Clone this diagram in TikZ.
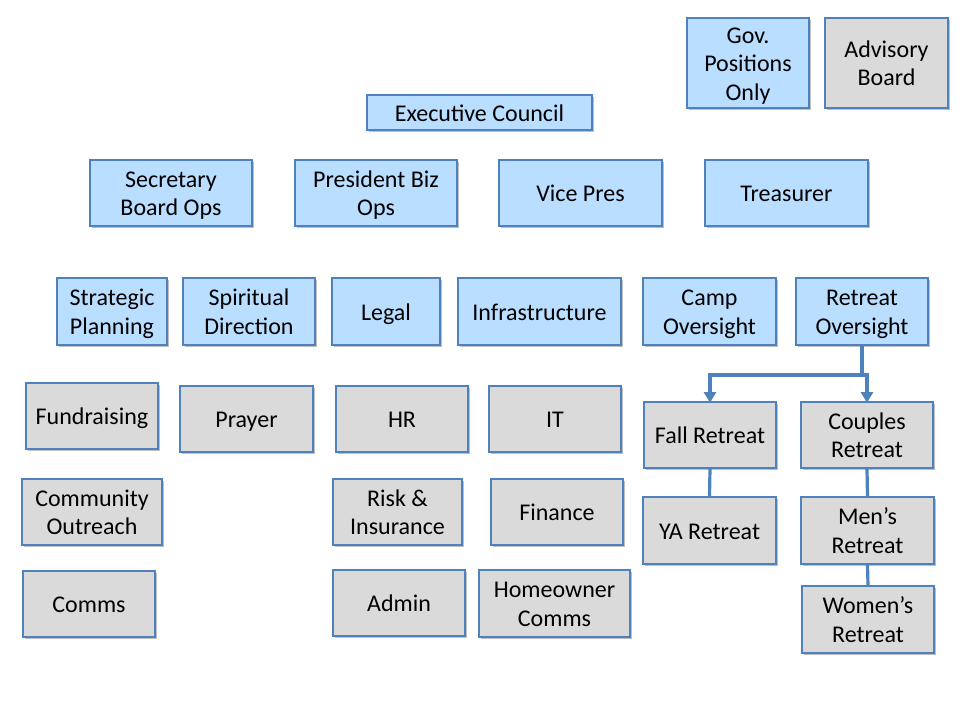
\documentclass[tikz,border=0pt]{standalone}
\usepackage{fontspec}
\setmainfont{Carlito}
\usetikzlibrary{arrows.meta,shadows}

\definecolor{boxblue}{RGB}{185,222,255}
\definecolor{boxgrey}{RGB}{218,218,218}
\definecolor{edgeblue}{RGB}{79,129,189}

\begin{document}
\begin{tikzpicture}[x=0.75pt,y=-0.75pt,
	unit/.style={draw=edgeblue, line width=0.9pt, align=flush center, inner sep=0pt,
		font=\fontsize{18}{21.4}\selectfont,
		execute at begin node={\rule{0pt}{18pt}},
		execute at end node={\rule[-5pt]{0pt}{5pt}},
		drop shadow={shadow xshift=1.2pt, shadow yshift=-1.2pt, opacity=0.25, fill=black}},
	blueunit/.style={unit, fill=boxblue},
	greyunit/.style={unit, fill=boxgrey},
	bw/.style={minimum width=#1*0.75pt, text width=#1*0.75pt-4pt},
	bh/.style={minimum height=#1*0.75pt},
	link/.style={draw=edgeblue, line width=2.4pt},
	linkarrow/.style={link, -{Triangle[width=9pt,length=8pt]}, shorten >=-1pt}]
%
	\useasboundingbox (0,0) rectangle (960,720);
%
	\node[blueunit, bw=122, bh=90] (gov) at (748,63) {Gov.\\Positions\\Only};
	\node[greyunit, bw=123, bh=90] (advisory) at (886.5,63) {Advisory\\Board};
	\node[blueunit, bw=225, bh=35] (exec) at (479.5,112.5) {Executive Council};
%
	\node[blueunit, bw=162, bh=66] (secretary) at (171,193) {Secretary\\Board Ops};
	\node[blueunit, bw=162, bh=66] (president) at (376,193) {President Biz\\Ops};
	\node[blueunit, bw=163, bh=66] (vicepres) at (580.5,193) {Vice Pres};
	\node[blueunit, bw=163, bh=66] (treasurer) at (786.5,193) {Treasurer};
%
	\node[blueunit, bw=110, bh=67] (strategic) at (112,311.5) {Strategic\\Planning};
	\node[blueunit, bw=132, bh=67] (spiritual) at (249,311.5) {Spiritual\\Direction};
	\node[blueunit, bw=108, bh=67] (legal) at (386,311.5) {Legal};
	\node[blueunit, bw=163, bh=67] (infra) at (539.5,311.5) {Infrastructure};
	\node[blueunit, bw=133, bh=67] (camp) at (709.5,311.5) {Camp\\Oversight};
	\node[blueunit, bw=132, bh=67] (retreat) at (862,311.5) {Retreat\\Oversight};
%
	\node[greyunit, bw=132, bh=66] (fundraising) at (92,416) {Fundraising};
	\node[greyunit, bw=133, bh=66] (prayer) at (246.5,419) {Prayer};
	\node[greyunit, bw=132, bh=66] (hr) at (402,419) {HR};
	\node[greyunit, bw=132, bh=66] (it) at (555,419) {IT};
	\node[greyunit, bw=132, bh=66] (fall) at (710,435) {Fall Retreat};
	\node[greyunit, bw=132, bh=66] (couples) at (867,435) {Couples\\Retreat};
%
	\node[greyunit, bw=140, bh=66] (outreach) at (92,512) {Community\\Outreach};
	\node[greyunit, bw=129, bh=66] (risk) at (397.5,512) {Risk \&\\Insurance};
	\node[greyunit, bw=132, bh=66] (finance) at (557,512) {Finance};
	\node[greyunit, bw=133, bh=67] (ya) at (709.5,530.5) {YA Retreat};
	\node[greyunit, bw=133, bh=67] (mens) at (867.5,530.5) {Men’s\\Retreat};
%
	\node[greyunit, bw=132, bh=66] (comms) at (89,604) {Comms};
	\node[greyunit, bw=132, bh=66] (admin) at (399,603) {Admin};
	\node[greyunit, bw=151, bh=67] (homeowner) at (554.5,603.5) {Homeowner\\Comms};
	\node[greyunit, bw=132, bh=67] (womens) at (868,619.5) {Women’s\\Retreat};
%
	\coordinate (split) at (862,375);
	\draw[link] (retreat.south) -- (split);
	\draw[linkarrow] (split) -| (fall.north);
	\draw[linkarrow] (split) -| (couples.north);
	\draw[link] (fall.south) -- (ya.north);
	\draw[link] (couples.south) -- (mens.north);
	\draw[link] (mens.south) -- (womens.north);
\end{tikzpicture}
\end{document}
